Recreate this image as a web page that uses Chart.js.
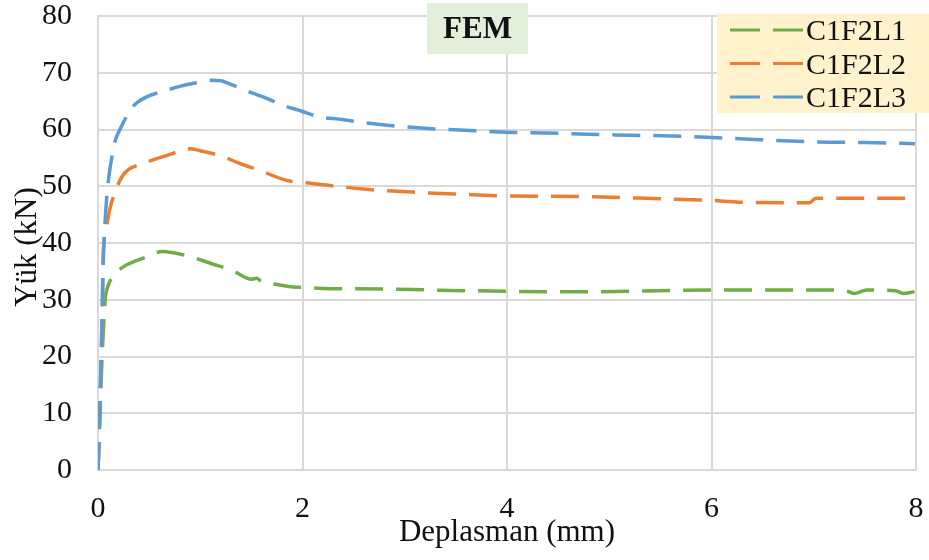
<!DOCTYPE html>
<html>
<head>
<meta charset="utf-8">
<script src="https://cdn.jsdelivr.net/npm/chart.js@4.4.1/dist/chart.umd.min.js"></script>
<style>
body { margin: 0; background: #fff; }
#wrap { width: 929px; height: 560px; position: relative; }
</style>
</head>
<body>
<div id="wrap"><canvas id="chart"></canvas></div>
<script>
// series labels and colours
const seriesNames = ["C1F2L1", "C1F2L2", "C1F2L3"];
const seriesColors = ["#70ad47", "#ed7d31", "#5b9bd5"];

// C1F2L1 (green)
const xL1 = [0, 0.02, 0.04, 0.06, 0.07, 0.1, 0.14, 0.24, 0.47, 0.63, 0.86, 1.12, 1.32, 1.5, 1.55, 1.6, 1.71, 1.88, 1.98, 2.2, 2.76, 3.3, 4.0, 4.71, 5.49, 6.0, 6.6, 7.25, 7.33, 7.4, 7.47, 7.52, 7.8, 7.88, 7.95, 8.0];
const yL1 = [0, 10, 20, 27, 30, 32.5, 34, 35.7, 37.5, 38.5, 37.8, 36.3, 35.1, 33.6, 33.8, 33.2, 32.8, 32.3, 32.2, 32.0, 31.9, 31.7, 31.5, 31.4, 31.6, 31.7, 31.7, 31.7, 31.5, 31.1, 31.5, 31.7, 31.6, 31.1, 31.3, 31.5];

// C1F2L2 (orange)
const xL2 = [0, 0.02, 0.04, 0.05, 0.06, 0.08, 0.1, 0.13, 0.17, 0.2, 0.27, 0.44, 0.67, 0.9, 0.99, 1.19, 1.39, 1.58, 1.85, 2.09, 2.6, 3.15, 3.54, 4.0, 4.71, 5.49, 6.0, 6.27, 6.82, 6.96, 7.02, 7.5, 7.99];
const yL2 = [0, 12, 25, 37, 40.5, 42.5, 44.6, 47, 49, 50.5, 52.5, 54, 55.4, 56.6, 56.3, 55.4, 54, 52.8, 51, 50.5, 49.5, 48.9, 48.6, 48.3, 48.2, 47.8, 47.5, 47.2, 47.1, 47.1, 47.9, 47.9, 47.9];

// C1F2L3 (blue)
const xL3 = [0, 0.01, 0.02, 0.03, 0.04, 0.05, 0.07, 0.09, 0.11, 0.13, 0.16, 0.22, 0.34, 0.47, 0.65, 0.8, 0.95, 1.09, 1.2, 1.32, 1.5, 1.65, 1.8, 1.98, 2.17, 2.37, 2.6, 2.91, 3.2, 3.54, 4.0, 4.4, 4.71, 5.2, 5.73, 6.0, 6.47, 7.05, 7.5, 7.99];
const yL3 = [0, 5, 12, 20, 28, 36, 44, 49, 52.2, 54.5, 57.5, 60.2, 64, 65.7, 66.8, 67.6, 68.2, 68.7, 68.6, 67.8, 66.5, 65.5, 64.3, 63.3, 62.2, 61.8, 61.2, 60.6, 60.2, 59.9, 59.5, 59.4, 59.2, 59.0, 58.8, 58.6, 58.2, 57.8, 57.7, 57.5];

const chartTitle = "FEM";
const xTitle = "Deplasman (mm)";
const yTitle = "Yük (kN)";

const serif = "'Liberation Serif', 'Times New Roman', serif";

function pts(xs, ys) {
  return xs.map((x, i) => ({ x: x, y: ys[i] }));
}

const allX = [xL1, xL2, xL3];
const allY = [yL1, yL2, yL3];

const datasets = seriesNames.map((name, i) => ({
  label: name,
  data: pts(allX[i], allY[i]),
  borderColor: seriesColors[i],
  borderWidth: 3.5,
  borderDash: [28, 13],
  pointRadius: 0,
  cubicInterpolationMode: 'monotone',
  fill: false,
  order: 2 - i
}));

// titles, FEM box and legend drawn on top
const decor = {
  id: 'decor',
  afterDraw(chart) {
    const ctx = chart.ctx;
    ctx.save();
    ctx.fillStyle = '#111';

    // x title
    ctx.font = '31px ' + serif;
    ctx.textAlign = 'center';
    ctx.textBaseline = 'alphabetic';
    ctx.fillText(xTitle, 507, 541);

    // y title
    ctx.save();
    ctx.translate(36, 247);
    ctx.rotate(-Math.PI / 2);
    ctx.fillText(yTitle, 0, 0);
    ctx.restore();

    // FEM box
    ctx.fillStyle = '#e2efda';
    ctx.fillRect(427, 3, 101, 51);
    ctx.fillStyle = '#111';
    ctx.font = 'bold 31px ' + serif;
    ctx.fillText(chartTitle, 477.5, 38);

    // legend
    ctx.fillStyle = '#fff2cc';
    ctx.fillRect(717, 14, 212, 99);
    ctx.font = '30px ' + serif;
    ctx.textAlign = 'left';
    for (let i = 0; i < seriesNames.length; i++) {
      const ly = 30 + i * 33.5;
      ctx.strokeStyle = seriesColors[i];
      ctx.lineWidth = 3;
      ctx.setLineDash([30, 13]);
      ctx.beginPath();
      ctx.moveTo(730, ly);
      ctx.lineTo(803, ly);
      ctx.stroke();
      ctx.fillStyle = '#111';
      ctx.fillText(seriesNames[i], 806, ly + 10);
    }
    ctx.restore();
  }
};

new Chart(document.getElementById('chart'), {
  type: 'line',
  data: { datasets: datasets },
  options: {
    responsive: true,
    maintainAspectRatio: false,
    animation: false,
    layout: { padding: { left: 0, right: 13, top: 16, bottom: 0 } },
    plugins: {
      legend: { display: false },
      tooltip: { enabled: false }
    },
    scales: {
      x: {
        type: 'linear',
        min: 0,
        max: 8,
        ticks: { stepSize: 2, color: '#111', font: { family: serif, size: 30 }, padding: 21, maxRotation: 0 },
        grid: { color: '#d9d9d9', lineWidth: 2, drawTicks: false },
        border: { color: '#d9d9d9', width: 2 },
        afterFit(s) { s.height = 90; s.paddingLeft = 0; s.paddingRight = 0; }
      },
      y: {
        min: 0,
        max: 80,
        ticks: { stepSize: 10, color: '#111', font: { family: serif, size: 30 }, padding: 26 },
        grid: { color: '#d9d9d9', lineWidth: 2, drawTicks: false },
        border: { color: '#d9d9d9', width: 2 },
        afterFit(s) { s.width = 98; s.paddingTop = 0; s.paddingBottom = 0; }
      }
    }
  },
  plugins: [decor]
});
</script>
</body>
</html>
